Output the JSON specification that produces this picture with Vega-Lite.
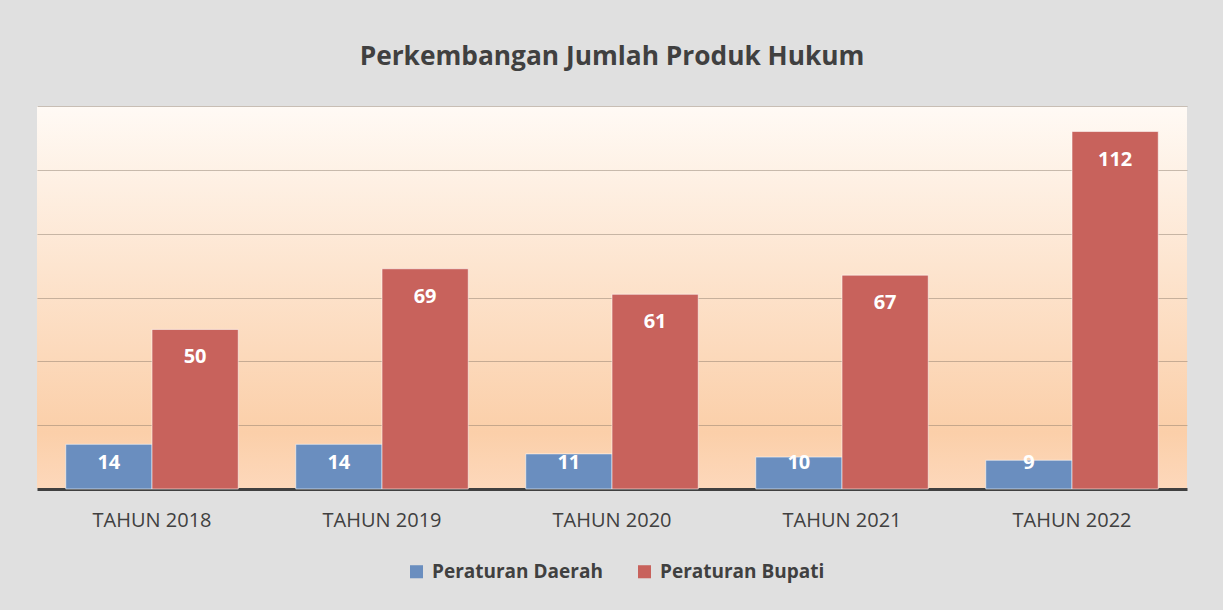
{
  "$schema": "https://vega.github.io/schema/vega-lite/v6.json",
  "width": 1150,
  "height": 383,
  "autosize": {"type": "none"},
  "padding": {"left": 37, "top": 106, "right": 36, "bottom": 121},
  "background": "#e0e0e0",
  "title": {
    "text": "Perkembangan Jumlah Produk Hukum",
    "font": "Open Sans",
    "fontSize": 26.3,
    "fontWeight": "bold",
    "color": "#404040",
    "anchor": "middle",
    "offset": 36
  },
  "data": {
    "values": [
      {"tahun": "TAHUN 2018", "jenis": "Peraturan Daerah", "jumlah": 14},
      {"tahun": "TAHUN 2018", "jenis": "Peraturan Bupati", "jumlah": 50},
      {"tahun": "TAHUN 2019", "jenis": "Peraturan Daerah", "jumlah": 14},
      {"tahun": "TAHUN 2019", "jenis": "Peraturan Bupati", "jumlah": 69},
      {"tahun": "TAHUN 2020", "jenis": "Peraturan Daerah", "jumlah": 11},
      {"tahun": "TAHUN 2020", "jenis": "Peraturan Bupati", "jumlah": 61},
      {"tahun": "TAHUN 2021", "jenis": "Peraturan Daerah", "jumlah": 10},
      {"tahun": "TAHUN 2021", "jenis": "Peraturan Bupati", "jumlah": 67},
      {"tahun": "TAHUN 2022", "jenis": "Peraturan Daerah", "jumlah": 9},
      {"tahun": "TAHUN 2022", "jenis": "Peraturan Bupati", "jumlah": 112}
    ]
  },
  "encoding": {
    "x": {
      "field": "tahun",
      "type": "nominal",
      "sort": null,
      "scale": {"paddingInner": 0.25, "paddingOuter": 0.125},
      "axis": {
        "title": null,
        "labelAngle": 0,
        "labelFont": "Open Sans",
        "labelFontSize": 20,
        "labelColor": "#404040",
        "labelPadding": 21,
        "ticks": false,
        "grid": false,
        "domainColor": "#404040",
        "domainWidth": 3
      }
    },
    "xOffset": {
      "field": "jenis",
      "type": "nominal",
      "sort": ["Peraturan Daerah", "Peraturan Bupati"],
      "scale": {"paddingInner": 0, "paddingOuter": 0}
    }
  },
  "layer": [
    {
      "mark": {"type": "bar", "stroke": "#ffffff", "strokeOpacity": 0.55, "strokeWidth": 1},
      "encoding": {
        "y": {
          "field": "jumlah",
          "type": "quantitative",
          "scale": {"domain": [0, 120], "nice": false},
          "axis": {
            "title": null,
            "labels": false,
            "ticks": false,
            "domain": false,
            "grid": true,
            "values": [20, 40, 60, 80, 100, 120],
            "gridColor": "#857565",
            "gridOpacity": 0.45,
            "gridWidth": 1
          }
        },
        "color": {
          "field": "jenis",
          "type": "nominal",
          "sort": ["Peraturan Daerah", "Peraturan Bupati"],
          "scale": {"domain": ["Peraturan Daerah", "Peraturan Bupati"], "range": ["#6a8ebf", "#c8625c"]},
          "legend": {
            "title": null,
            "orient": "none",
            "legendX": 370,
            "legendY": 456,
            "direction": "horizontal",
            "symbolType": "square",
            "symbolSize": 170,
            "symbolStrokeWidth": 0,
            "labelFont": "Open Sans",
            "labelFontSize": 19,
            "labelFontWeight": "bold",
            "labelColor": "#404040",
            "labelLimit": 400,
            "labelOffset": 6,
            "columnPadding": 32
          }
        }
      }
    },
    {
      "transform": [{"filter": "datum.jumlah >= 20"}],
      "mark": {"type": "text", "dy": 28, "color": "#ffffff", "font": "Open Sans", "fontSize": 20, "fontWeight": "bold", "baseline": "middle", "align": "center"},
      "encoding": {
        "y": {"field": "jumlah", "type": "quantitative"},
        "text": {"field": "jumlah", "type": "quantitative"}
      }
    },
    {
      "transform": [{"filter": "datum.jumlah < 20"}],
      "mark": {"type": "text", "dy": -26, "color": "#ffffff", "font": "Open Sans", "fontSize": 20, "fontWeight": "bold", "baseline": "middle", "align": "center"},
      "encoding": {
        "y": {"datum": 0, "type": "quantitative"},
        "text": {"field": "jumlah", "type": "quantitative"}
      }
    }
  ],
  "config": {
    "view": {
      "stroke": null,
      "fill": {
        "gradient": "linear",
        "x1": 0, "y1": 0, "x2": 0, "y2": 1,
        "stops": [
          {"offset": 0, "color": "#fffaf5"},
          {"offset": 0.85, "color": "#fbcfa9"},
          {"offset": 1, "color": "#fdd8bb"}
        ]
      }
    }
  }
}
